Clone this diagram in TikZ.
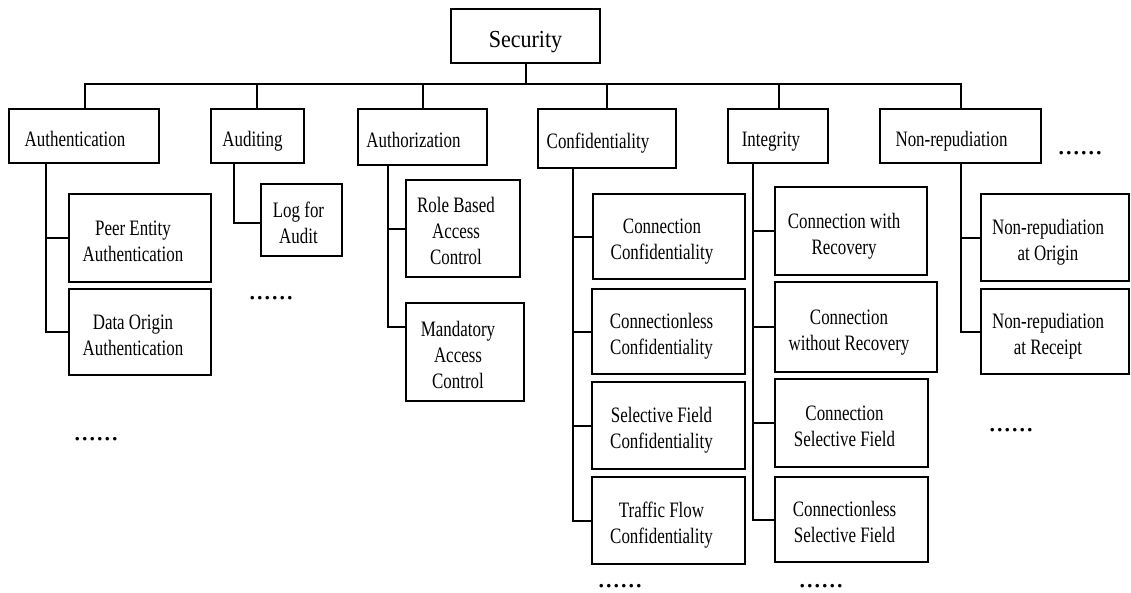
\documentclass[tikz,border=0pt]{standalone}
\usepackage{fontspec}
\setmainfont{Liberation Serif}[FakeStretch=0.77]
\newfontfamily\secfont{Liberation Serif}[FakeStretch=0.9]
\newfontfamily\dotfont{Liberation Serif}
\newcommand\boxtxt[2][14pt]{\raisebox{-10pt}[0pt][0pt]{\begin{tabular}{@{}c@{}}#2\end{tabular}}\hspace*{#1}}
\tikzset{
  box/.style={draw, line width=1.8pt, inner sep=0pt, font=\fontsize{22pt}{26pt}\selectfont},
  dotsn/.style={font=\dotfont\fontsize{30pt}{30pt}\selectfont, inner sep=0pt, anchor=base},
  link/.style={line width=2pt}
}
\begin{document}
\begin{tikzpicture}[x=1pt,y=-1pt]
\useasboundingbox (0,0) rectangle (1131,592);
% root
\node[box, font=\secfont\fontsize{24.5pt}{28pt}\selectfont, minimum width=149pt, minimum height=54pt] (sec) at (525.5,36) {\raisebox{-11.7pt}[0pt][0pt]{Security}};
% level 1
\node[box, minimum width=150pt, minimum height=54pt] (auth) at (84,136) {\boxtxt[18pt]{Authentication}};
\node[box, minimum width=93pt, minimum height=54pt] (audit) at (257.5,136) {\boxtxt[10pt]{Auditing}};
\node[box, minimum width=129pt, minimum height=56pt] (authz) at (422.5,137) {\boxtxt[18pt]{Authorization}};
\node[box, minimum width=138pt, minimum height=59pt] (conf) at (607,138.5) {\boxtxt[18pt]{Confidentiality}};
\node[box, minimum width=100pt, minimum height=54pt] (integ) at (778,136) {\boxtxt[14pt]{Integrity}};
\node[box, minimum width=161pt, minimum height=54pt] (nonrep) at (960.5,136) {\boxtxt[18pt]{Non-repudiation}};
% level 2
\node[box, minimum width=142pt, minimum height=88pt] (peer) at (140,238) {\boxtxt{Peer Entity\\Authentication}};
\node[box, minimum width=142pt, minimum height=86pt] (dorig) at (140,332) {\boxtxt{Data Origin\\Authentication}};
\node[box, minimum width=81pt, minimum height=72pt] (log) at (301.5,220) {\boxtxt[6pt]{Log for\\Audit}};
\node[box, minimum width=114pt, minimum height=97pt] (role) at (463,228.5) {\boxtxt{Role Based\\Access\\Control}};
\node[box, minimum width=118pt, minimum height=98pt] (mand) at (465,352) {\boxtxt{Mandatory\\Access\\Control}};
\node[box, minimum width=152pt, minimum height=85pt] (cc1) at (669,236.5) {\boxtxt{Connection\\Confidentiality}};
\node[box, minimum width=153pt, minimum height=85pt] (cc2) at (668.5,331.5) {\boxtxt{Connectionless\\Confidentiality}};
\node[box, minimum width=153pt, minimum height=87pt] (cc3) at (668.5,425.5) {\boxtxt{Selective Field\\Confidentiality}};
\node[box, minimum width=153pt, minimum height=87pt] (cc4) at (668.5,520.5) {\boxtxt{Traffic Flow\\Confidentiality}};
\node[box, minimum width=152pt, minimum height=88pt] (ig1) at (851,231) {\boxtxt{Connection with\\Recovery}};
\node[box, minimum width=162pt, minimum height=90pt] (ig2) at (856,327) {\boxtxt{Connection\\without Recovery}};
\node[box, minimum width=153pt, minimum height=88pt] (ig3) at (851.5,423) {\boxtxt{Connection\\Selective Field}};
\node[box, minimum width=153pt, minimum height=85pt] (ig4) at (851.5,519.5) {\boxtxt{Connectionless\\Selective Field}};
\node[box, minimum width=148pt, minimum height=87pt] (nr1) at (1055,237.5) {\boxtxt{Non-repudiation\\at Origin}};
\node[box, minimum width=148pt, minimum height=85pt] (nr2) at (1055,331.5) {\boxtxt{Non-repudiation\\at Receipt}};
% ellipses
\node[dotsn] (d1) at (271,299) {......};
\node[dotsn] (d2) at (96,440) {......};
\node[dotsn] (d3) at (620,587) {......};
\node[dotsn] (d4) at (821,587) {......};
\node[dotsn] (d5) at (1011,431) {......};
\node[dotsn] (d6) at (1080,154) {......};
% bus
\draw[link] ([xshift=77pt]auth.north west) -- ++(0,-24) -| (sec.south);
\draw[link] ([xshift=47pt]audit.north west) -- ++(0,-24) -| (sec.south);
\draw[link] (authz.north) -- ++(0,-24) -| (sec.south);
\draw[link] (conf.north) -- ++(0,-24) -| (sec.south);
\draw[link] ([xshift=52pt]integ.north west) -- ++(0,-24) -| (sec.south);
\draw[link] (nonrep.north) -- ++(0,-24) -| (sec.south);
% children
\draw[link] ([xshift=38pt]auth.south west) |- (peer.west);
\draw[link] ([xshift=38pt]auth.south west) |- (dorig.west);
\draw[link] ([xshift=24pt]audit.south west) |- ([yshift=-3pt]log.west);
\draw[link] ([xshift=31pt]authz.south west) |- (role.west);
\draw[link] ([xshift=31pt]authz.south west) |- ([yshift=-25pt]mand.north west);
\draw[link] ([xshift=36pt]conf.south west) |- (cc1.west);
\draw[link] ([xshift=36pt]conf.south west) |- (cc2.west);
\draw[link] ([xshift=36pt]conf.south west) |- (cc3.west);
\draw[link] ([xshift=36pt]conf.south west) |- (cc4.west);
\draw[link] ([xshift=26pt]integ.south west) |- (ig1.west);
\draw[link] ([xshift=26pt]integ.south west) |- (ig2.west);
\draw[link] ([xshift=26pt]integ.south west) |- (ig3.west);
\draw[link] ([xshift=26pt]integ.south west) |- (ig4.west);
\draw[link] (nonrep.south) |- (nr1.west);
\draw[link] (nonrep.south) |- (nr2.west);
\end{tikzpicture}
\end{document}
